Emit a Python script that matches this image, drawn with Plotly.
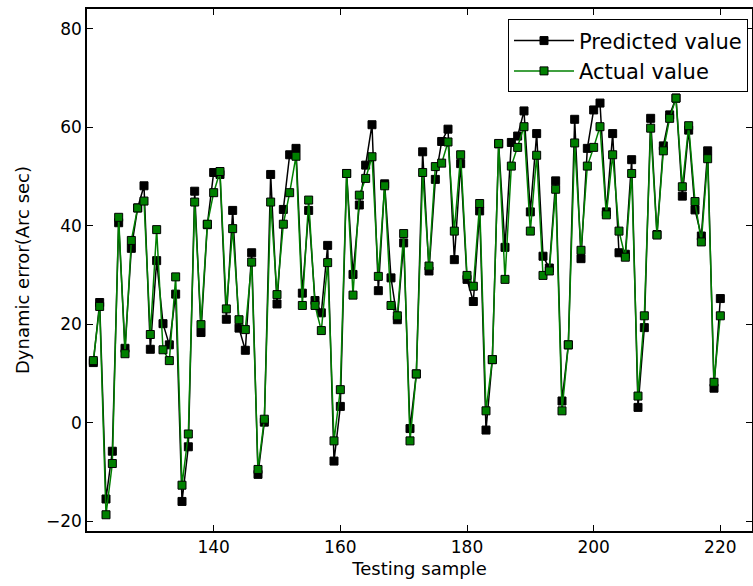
import plotly.graph_objects as go

samples = list(range(121, 221))

predicted = [
    12.2, 24.4, -15.5, -5.8, 40.6, 15.1, 35.4, 43.6, 48.1, 14.9,
    32.9, 20.1, 15.8, 26.1, -16.0, -4.9, 47.0, 18.3, 40.2, 50.8,
    50.4, 21.0, 43.1, 19.2, 14.7, 34.5, -10.5, 0.1, 50.4, 24.1,
    43.3, 54.4, 55.7, 26.3, 43.1, 24.8, 22.3, 36.0, -7.8, 3.3,
    50.6, 30.1, 44.2, 52.3, 60.5, 26.8, 48.5, 29.4, 20.9, 36.5,
    -1.2, 9.9, 55.0, 30.8, 49.4, 57.1, 59.6, 33.1, 52.6, 29.1,
    24.6, 43.0, -1.5, 12.8, 56.6, 35.6, 56.9, 58.2, 63.3, 42.8,
    58.7, 33.8, 31.4, 49.1, 4.4, 15.8, 61.6, 33.3, 55.7, 63.5,
    64.9, 42.8, 58.7, 34.5, 34.2, 53.4, 3.1, 19.3, 61.8, 38.2,
    56.2, 62.5, 65.9, 46.0, 59.4, 43.2, 37.9, 55.2, 7.0, 25.2,
]

actual = [
    12.6, 23.6, -18.7, -8.3, 41.7, 14.0, 37.0, 43.6, 45.0, 17.9,
    39.2, 14.8, 12.6, 29.6, -12.7, -2.3, 44.8, 19.9, 40.3, 46.7,
    51.0, 23.1, 39.4, 20.9, 18.9, 32.6, -9.5, 0.7, 44.8, 26.0,
    40.3, 46.7, 54.1, 23.8, 45.2, 23.8, 18.7, 32.5, -3.7, 6.7,
    50.6, 25.9, 46.2, 49.6, 54.0, 29.7, 48.1, 23.8, 21.7, 38.4,
    -3.7, 9.9, 50.8, 31.8, 52.0, 52.7, 57.0, 38.9, 54.4, 29.9,
    27.7, 44.5, 2.4, 12.8, 56.7, 29.1, 52.1, 55.9, 60.1, 38.9,
    54.3, 29.9, 30.8, 47.4, 2.4, 15.8, 56.8, 35.0, 52.1, 55.9,
    60.1, 42.2, 54.4, 38.9, 33.6, 50.6, 5.4, 21.7, 59.8, 38.1,
    55.2, 61.8, 65.9, 47.9, 60.3, 44.9, 36.7, 53.6, 8.2, 21.7,
]

x_ticks = [140, 160, 180, 200, 220]
y_ticks = [-20, 0, 20, 40, 60, 80]

fig = go.Figure()
fig.add_trace(go.Scatter(
    x=samples, y=predicted, mode="lines+markers", name="Predicted value",
    line=dict(color="black", width=1.5),
    marker=dict(symbol="square", size=8, color="black",
                line=dict(color="black", width=1)),
))
fig.add_trace(go.Scatter(
    x=samples, y=actual, mode="lines+markers", name="Actual value",
    line=dict(color="#008000", width=1.5),
    marker=dict(symbol="square", size=8, color="#008000",
                line=dict(color="black", width=1)),
))

axis_common = dict(
    showgrid=False, zeroline=False, showline=True, linecolor="black",
    linewidth=1.5, mirror="allticks", ticks="inside", ticklen=6,
    tickcolor="black", tickfont=dict(family="DejaVu Sans", size=17, color="black"),
)

fig.update_layout(
    width=753, height=586,
    margin=dict(l=87, r=1, t=9, b=55, autoexpand=False),
    paper_bgcolor="white", plot_bgcolor="white",
    font=dict(family="DejaVu Sans", size=17, color="black"),
    xaxis=dict(range=[120, 225], tickvals=x_ticks,
               title=dict(text="Testing sample", standoff=6,
                          font=dict(size=18)), **axis_common),
    yaxis=dict(range=[-22, 84], tickvals=y_ticks,
               title=dict(text="Dynamic error(Arc sec)", standoff=12,
                          font=dict(size=18)), **axis_common),
    legend=dict(x=0.994, y=0.98, xanchor="right", yanchor="top",
                bgcolor="white", bordercolor="black", borderwidth=1,
                font=dict(family="DejaVu Sans", size=21, color="black"),
                itemwidth=60, tracegroupgap=0),
    showlegend=True,
)

fig.write_html("out.html",
               config={"displayModeBar": False},
               post_script="document.body.style.margin='0';document.body.style.padding='0';")
